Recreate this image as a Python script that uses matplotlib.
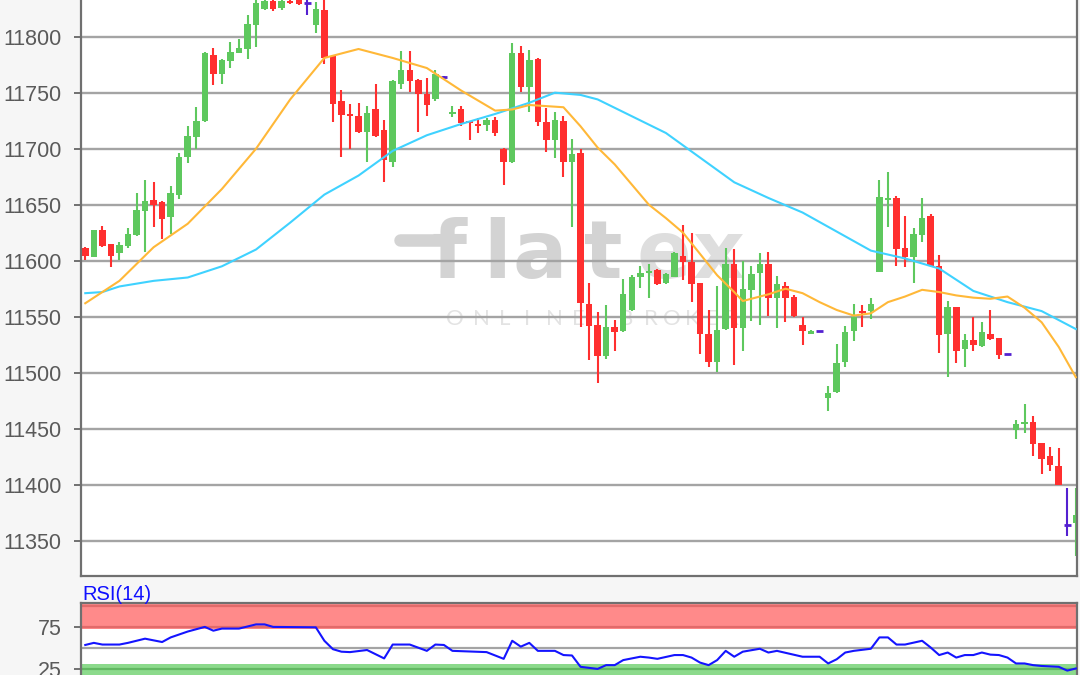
import matplotlib
matplotlib.use("Agg")
import matplotlib.pyplot as plt
import numpy as np

# ---------------- data ----------------
opens = [11611, 11603, 11627, 11615, 11607, 11613, 11623, 11644, 11654, 11652,
         11639, 11659, 11693, 11710, 11725, 11784, 11767, 11778, 11785, 11789,
         11810, 11825, 11832, 11826, 11832, 11833, 11830, 11810, 11824, 11783,
         11743, 11731, 11729, 11715, 11735, 11717, 11688, 11758, 11770, 11761,
         11749, 11744, 11764, 11731, 11735, 11725, 11722, 11721, 11726, 11700,
         11688, 11785, 11755, 11780, 11724, 11708, 11725, 11688, 11696, 11561,
         11543, 11515, 11541, 11537, 11556, 11585, 11589, 11592, 11580, 11585,
         11604, 11599, 11580, 11535, 11510, 11539, 11597, 11540, 11574, 11589,
         11597, 11567, 11577, 11568, 11543, 11535, 11537, 11477, 11483, 11510,
         11537, 11555, 11555, 11590, 11654, 11656, 11611, 11603, 11623, 11640,
         11595, 11535, 11559, 11521, 11529, 11524, 11535, 11531, 11517, 11449,
         11454, 11456, 11437, 11426, 11417, 11364, 11366]
highs = [11612, 11627, 11631, 11615, 11617, 11629, 11660, 11672, 11670, 11653,
         11667, 11696, 11720, 11737, 11786, 11790, 11780, 11795, 11798, 11819,
         11833, 11835, 11835, 11835, 11835, 11835, 11833, 11831, 11833, 11784,
         11752, 11740, 11741, 11738, 11758, 11726, 11761, 11787, 11787, 11762,
         11763, 11770, 11765, 11738, 11738, 11725, 11727, 11727, 11728, 11701,
         11794, 11792, 11788, 11781, 11736, 11733, 11729, 11709, 11700, 11580,
         11554, 11560, 11547, 11584, 11587, 11595, 11597, 11593, 11589, 11608,
         11632, 11625, 11580, 11556, 11577, 11611, 11610, 11600, 11595, 11607,
         11608, 11586, 11581, 11569, 11550, 11538, 11537, 11488, 11526, 11542,
         11561, 11560, 11567, 11672, 11679, 11658, 11640, 11629, 11656, 11642,
         11605, 11564, 11559, 11535, 11550, 11545, 11556, 11531, 11517, 11458,
         11472, 11461, 11437, 11434, 11433, 11397, 11397]
lows = [11601, 11603, 11612, 11594, 11601, 11611, 11622, 11608, 11630, 11619,
        11624, 11655, 11687, 11700, 11724, 11757, 11758, 11772, 11785, 11780,
        11791, 11824, 11823, 11824, 11829, 11828, 11819, 11803, 11776, 11724,
        11693, 11700, 11714, 11688, 11710, 11670, 11684, 11753, 11751, 11715,
        11729, 11743, 11764, 11728, 11720, 11708, 11714, 11716, 11711, 11668,
        11687, 11751, 11733, 11720, 11697, 11692, 11675, 11630, 11541, 11511,
        11491, 11512, 11519, 11536, 11555, 11576, 11567, 11578, 11579, 11585,
        11583, 11563, 11517, 11505, 11501, 11538, 11507, 11519, 11546, 11543,
        11551, 11540, 11545, 11550, 11525, 11535, 11537, 11466, 11482, 11505,
        11528, 11541, 11548, 11590, 11630, 11595, 11594, 11580, 11617, 11594,
        11518, 11496, 11509, 11505, 11519, 11523, 11529, 11512, 11517, 11441,
        11446, 11426, 11410, 11412, 11400, 11354, 11336]
closes = [11604, 11627, 11613, 11604, 11614, 11624, 11645, 11653, 11650, 11637,
          11660, 11693, 11711, 11725, 11785, 11767, 11779, 11786, 11790, 11811,
          11830, 11832, 11825, 11832, 11830, 11829, 11830, 11825, 11781, 11740,
          11730, 11729, 11715, 11732, 11711, 11690, 11760, 11770, 11760, 11749,
          11739, 11767, 11764, 11733, 11723, 11723, 11720, 11726, 11714, 11688,
          11785, 11755, 11779, 11724, 11708, 11726, 11688, 11695, 11562, 11542,
          11515, 11541, 11536, 11570, 11585, 11589, 11590, 11579, 11588, 11607,
          11599, 11579, 11535, 11510, 11538, 11597, 11540, 11575, 11588, 11597,
          11567, 11579, 11567, 11551, 11537, 11537, 11537, 11482, 11509, 11536,
          11550, 11553, 11561, 11657, 11655, 11610, 11603, 11624, 11638, 11595,
          11534, 11559, 11519, 11529, 11525, 11536, 11530, 11516, 11517, 11454,
          11455, 11436, 11423, 11418, 11400, 11364, 11373]

ma_fast_idx = [0, 4, 8, 12, 16, 20, 24, 28, 32, 36, 40, 44, 48, 50, 52, 56, 58, 60,
               62, 64, 66, 68, 70, 72, 74, 76, 77, 78, 80, 82, 84, 86, 88, 90, 92,
               94, 96, 98, 100, 102, 104, 106, 108, 110, 112, 114, 116]
ma_fast_val = [11562, 11582, 11612, 11633, 11664, 11700, 11744, 11781, 11789, 11781,
               11772, 11752, 11734, 11735, 11739, 11737, 11720, 11701, 11686, 11668,
               11650, 11638, 11625, 11606, 11587, 11572, 11564, 11566, 11570, 11575,
               11571, 11563, 11556, 11551, 11553, 11563, 11568, 11574, 11572, 11569,
               11567, 11566, 11568, 11558, 11545, 11523, 11496]

ma_slow_idx = [0, 2, 4, 8, 12, 16, 20, 24, 28, 32, 36, 40, 44, 48, 52, 55, 58, 60,
               64, 68, 72, 76, 80, 84, 88, 92, 96, 100, 104, 108, 112, 116]
ma_slow_val = [11571, 11572, 11577, 11582, 11585, 11595, 11610, 11634, 11659, 11676,
               11698, 11712, 11722, 11731, 11741, 11750, 11748, 11744, 11729, 11714,
               11692, 11670, 11656, 11643, 11626, 11609, 11602, 11593, 11573, 11563,
               11555, 11539]

rsi_idx = [0, 1, 2, 4, 5, 7, 9, 10, 12, 14, 15, 16, 18, 20, 21, 22, 27, 28, 29, 30,
           31, 33, 35, 36, 38, 40, 41, 42, 43, 47, 49, 50, 51, 52, 53, 55, 56, 57,
           58, 60, 61, 62, 63, 65, 66, 67, 69, 70, 71, 72, 73, 74, 75, 76, 77, 79,
           80, 81, 84, 86, 87, 88, 89, 90, 92, 93, 94, 95, 96, 98, 99, 100, 101,
           102, 103, 104, 105, 106, 107, 108, 109, 110, 111, 112, 114, 115, 116]
rsi_val = [54, 56.5, 54.5, 54.5, 56.5, 61.5, 57.5, 63, 70, 75.5, 71, 73.5, 73.5, 78.5,
           78.5, 75.5, 75, 59, 49, 46, 45.5, 48, 38, 54.5, 54.5, 47, 54.5, 54, 47, 45.5,
           37.5, 59, 52, 56.5, 47, 47, 42, 41.5, 28, 25.5, 30, 30, 36, 40, 39, 37.5, 42,
           42, 39, 33, 30, 36, 47, 40, 46, 49.5, 45, 47, 40, 40, 32, 37, 45, 47, 49.5,
           63, 63, 54.5, 54.5, 59, 51, 42, 45, 39, 42, 42, 45, 42.5, 42, 39, 32, 32, 30,
           29, 28, 23.5, 26]

price_ticks = [11350, 11400, 11450, 11500, 11550, 11600, 11650, 11700, 11750, 11800]
rsi_ticks = [25, 75]

# ---------------- styling ----------------
W, H = 1080, 675
GREEN = "#5ec85e"
RED = "#ff2f2f"
DOJI = "#5420d0"
ORANGE = "#ffb838"
CYAN = "#3fd2ff"
GRID = "#a4a4a4"
SPINE = "#707070"
LABEL = "#5a5a5a"
FONT = ["Liberation Sans", "DejaVu Sans"]

def px_box(left, top, right, bottom):
    return [left / W, 1 - bottom / H, (right - left) / W, (bottom - top) / H]

fig = plt.figure(figsize=(W / 100, H / 100), dpi=100, facecolor="#f6f6f6")

ax = fig.add_axes(px_box(81, -20, 1077, 576))
ax.set_facecolor("white")
ax.set_xlim(-0.5, 116.14)
ax.set_ylim(11318.5, 11850.6)

O = np.array(opens, float)
Hh = np.array(highs, float)
L = np.array(lows, float)
C = np.array(closes, float)
x = np.arange(len(O))

up = C > O
dn = C < O
fl = C == O
bw = 0.76
minh = 1.6

ax.vlines(x[up], L[up], Hh[up], color=GREEN, lw=1.5, zorder=2)
ax.bar(x[up], np.maximum(C[up] - O[up], minh), bottom=O[up], width=bw,
       color=GREEN, linewidth=0, zorder=2.1)
ax.vlines(x[dn], L[dn], Hh[dn], color=RED, lw=1.5, zorder=2)
ax.bar(x[dn], np.maximum(O[dn] - C[dn], minh), bottom=C[dn], width=bw,
       color=RED, linewidth=0, zorder=2.1)
ax.vlines(x[fl], L[fl], Hh[fl], color=DOJI, lw=1.5, zorder=2)
ax.hlines(O[fl], x[fl] - bw / 2, x[fl] + bw / 2, color=DOJI, lw=2, zorder=2.1)

ax.plot(ma_slow_idx, ma_slow_val, color=CYAN, lw=1.5, zorder=3)
ax.plot(ma_fast_idx, ma_fast_val, color=ORANGE, lw=1.5, zorder=3)

ax.set_yticks(price_ticks)
ax.set_xticks([])
ax.yaxis.grid(True, color=GRID, lw=1.7)
ax.set_axisbelow(True)
ax.tick_params(axis="y", length=5, width=1.4, color=SPINE, pad=9,
               labelsize=15.5, labelcolor=LABEL)
for lab in ax.get_yticklabels():
    lab.set_fontfamily(FONT)
for s in ["left", "right", "bottom"]:
    ax.spines[s].set_color(SPINE)
    ax.spines[s].set_linewidth(1.6)
ax.spines["top"].set_visible(False)

# watermark
wm = "#d3d3d3"
for ch, cx, col in zip("flatex", [449, 497, 540, 603, 664, 719],
                       [wm, wm, wm, wm, "#dedede", "#dedede"]):
    ax.text(cx / W, 1 - 278 / H, ch, transform=fig.transFigure, ha="center",
            va="baseline", fontsize=58, color=col, family=["DejaVu Sans"],
            fontweight="bold", zorder=0.3)
ax.plot([400 / W, 440 / W], [1 - 240 / H, 1 - 240 / H], transform=fig.transFigure,
        color=wm, lw=9, solid_capstyle="round", zorder=0.3)
for ch, cx in zip("ONLINEBROKER", [455, 481, 505, 527, 554, 578, 626, 651, 672, 692, 712, 732]):
    ax.text(cx / W, 1 - 325 / H, ch, transform=fig.transFigure, ha="center",
            va="baseline", fontsize=16, color="#e3e3e3", family=["Lato", "DejaVu Sans"],
            zorder=0.3)

# ---------------- RSI panel ----------------
rx = fig.add_axes(px_box(81, 603.3, 1077, 700))
rx.set_facecolor("white")
rx.set_xlim(-0.5, 116.14)
rx.set_ylim(-11.5, 103.6)
rx.axhspan(72.6, 103.6, color="#ff8a8a", lw=0, zorder=0.2)
rx.axhspan(-11.5, 31, color="#8cda8c", lw=0, zorder=0.2)
rx.axhline(100, color="#e26a6a", lw=1.6, zorder=0.6)
rx.axhline(75, color="#e26a6a", lw=1.6, zorder=0.6)
rx.axhline(50, color=GRID, lw=1.6, zorder=0.6)
rx.axhline(25, color="#62b862", lw=1.6, zorder=0.6)
rx.plot(rsi_idx, rsi_val, color="#1414ff", lw=1.5, zorder=3)
rx.set_xticks([])
rx.set_yticks(rsi_ticks)
rx.tick_params(axis="y", length=5, width=1.4, color=SPINE, pad=9,
               labelsize=15.5, labelcolor=LABEL)
for lab in rx.get_yticklabels():
    lab.set_fontfamily(FONT)
for s in ["left", "right", "top"]:
    rx.spines[s].set_color(SPINE)
    rx.spines[s].set_linewidth(1.6)
rx.spines["bottom"].set_visible(False)

fig.text(82 / W, 1 - 600 / H, "RSI(14)", color="#1010ff", fontsize=14.5,
         family=FONT, ha="left", va="baseline")

fig.savefig("out.png", dpi=100, facecolor=fig.get_facecolor())
